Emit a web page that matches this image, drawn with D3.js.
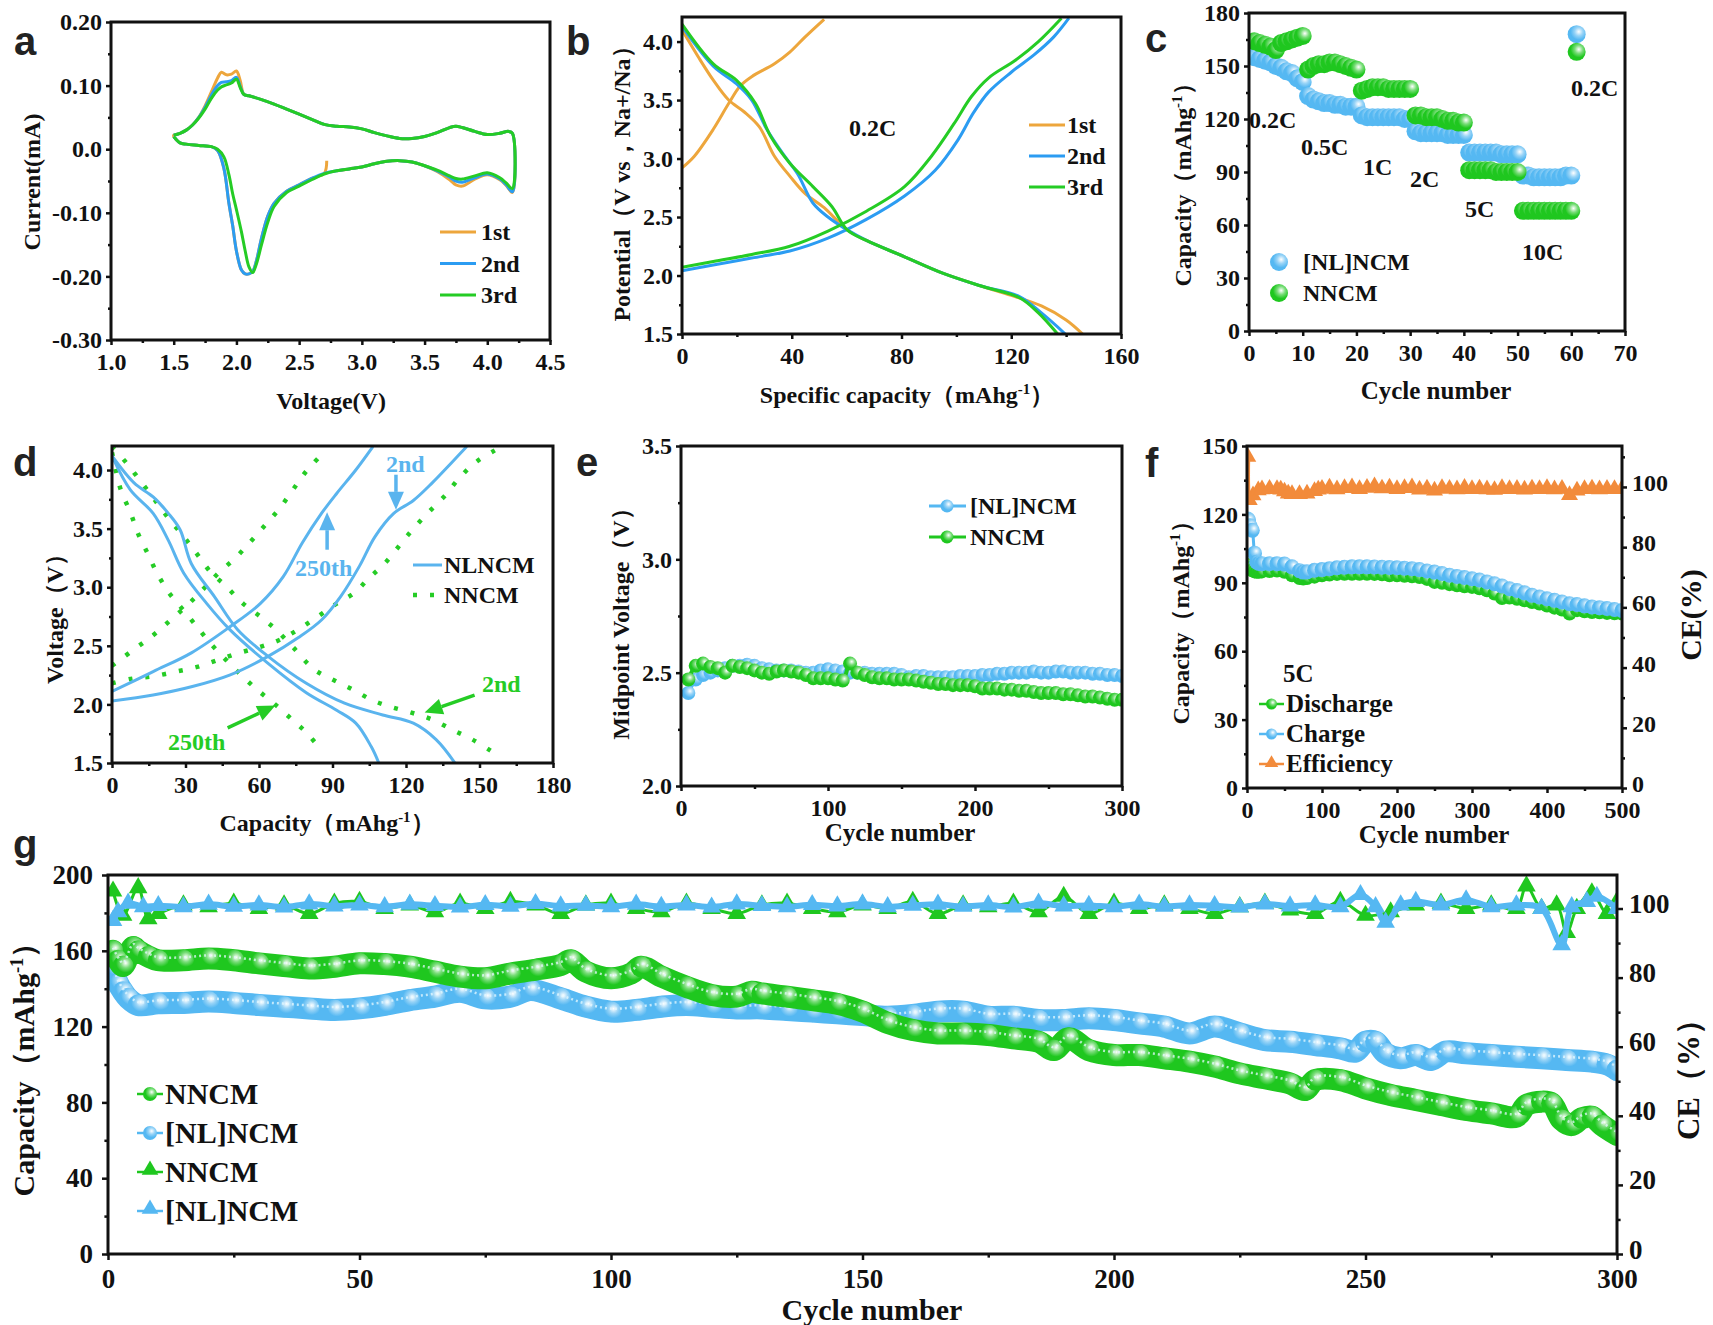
<!DOCTYPE html>
<html lang="en">
<head>
<meta charset="UTF-8" />
<title>Electrochemical performance</title>
<script src="https://cdn.jsdelivr.net/npm/d3@7/dist/d3.min.js"></script>
<style>
  body { margin: 0; padding: 0; background: #fff; overflow: hidden; }
  svg text { font-family: "Liberation Serif", "Times New Roman", serif; font-weight: bold; fill: #111; }
</style>
</head>
<body>
<svg width="1713" height="1325"></svg>
<script>
// ---------- a: CV, three cycles ----------
var cvUpV = [1.50,1.55,1.60,1.65,1.70,1.75,1.80,1.85,1.88,1.92,1.96,2.00,2.03,2.06,2.10,2.20,2.30,2.40,2.50,2.60,2.70,2.80,2.90,3.00,3.10,3.20,3.30,3.40,3.50,3.60,3.70,3.75,3.80,3.90,4.00,4.10,4.17,4.20]
var cvUp1 = [0.022,0.025,0.030,0.038,0.050,0.068,0.090,0.112,0.121,0.117,0.118,0.123,0.108,0.086,0.084,0.078,0.071,0.063,0.055,0.047,0.039,0.036,0.035,0.032,0.026,0.021,0.017,0.017,0.020,0.026,0.034,0.036,0.034,0.028,0.023,0.025,0.028,0.025]
var cvUp2 = [0.022,0.025,0.030,0.038,0.050,0.066,0.085,0.100,0.105,0.106,0.108,0.113,0.099,0.086,0.084,0.078,0.071,0.063,0.055,0.047,0.039,0.036,0.035,0.032,0.026,0.021,0.017,0.017,0.020,0.026,0.034,0.036,0.034,0.028,0.023,0.025,0.028,0.025]
var cvUp3 = [0.022,0.025,0.030,0.038,0.049,0.063,0.080,0.093,0.098,0.101,0.104,0.110,0.097,0.086,0.084,0.078,0.071,0.063,0.055,0.047,0.039,0.036,0.035,0.032,0.026,0.021,0.017,0.017,0.020,0.026,0.034,0.036,0.034,0.028,0.023,0.025,0.028,0.025]
var cvDnV = [4.20,4.15,4.10,4.00,3.90,3.80,3.75,3.70,3.60,3.50,3.40,3.30,3.20,3.10,3.00,2.90,2.80,2.70,2.60,2.50,2.40,2.30,2.25,2.20,2.16,2.13,2.10,2.07,2.04,2.00,1.97,1.94,1.90,1.85,1.80,1.70,1.60,1.55,1.50]
var cvDn1 = [-0.068,-0.057,-0.048,-0.040,-0.047,-0.058,-0.056,-0.048,-0.035,-0.026,-0.020,-0.018,-0.019,-0.023,-0.028,-0.031,-0.034,-0.038,-0.046,-0.056,-0.066,-0.085,-0.105,-0.140,-0.175,-0.192,-0.196,-0.196,-0.190,-0.160,-0.120,-0.085,-0.030,-0.002,0.004,0.006,0.008,0.010,0.020]
var cvDn2 = [-0.067,-0.056,-0.047,-0.039,-0.045,-0.052,-0.050,-0.044,-0.034,-0.026,-0.020,-0.018,-0.019,-0.023,-0.028,-0.031,-0.034,-0.038,-0.046,-0.056,-0.066,-0.085,-0.105,-0.140,-0.175,-0.192,-0.196,-0.196,-0.190,-0.160,-0.120,-0.085,-0.030,-0.002,0.004,0.006,0.008,0.010,0.020]
var cvDn3 = [-0.062,-0.053,-0.045,-0.037,-0.042,-0.047,-0.046,-0.042,-0.033,-0.026,-0.020,-0.018,-0.019,-0.023,-0.028,-0.031,-0.034,-0.039,-0.048,-0.058,-0.068,-0.090,-0.115,-0.150,-0.180,-0.194,-0.185,-0.160,-0.130,-0.095,-0.070,-0.040,-0.012,0.000,0.004,0.006,0.008,0.010,0.020]
var cvOcv = [2.72, -0.018]
var aXTicks = [1.0,1.5,2.0,2.5,3.0,3.5,4.0,4.5]
var aYTicks = [-0.3,-0.2,-0.1,0,0.1,0.2]
var aLegend = ['1st','2nd','3rd']

// ---------- b: charge/discharge at 0.2C ----------
var bChg1C = [0,4.5,11.4,17,21.2,25.4,33.7,39.3,44.9,51.8]
var bChg1V = [2.92,3.02,3.25,3.47,3.62,3.70,3.81,3.91,4.04,4.19]
var bDis1C = [0,5.9,11.4,17,22.6,28.2,33.7,39.3,44.9,51.8,60.2,67.2,81.1,95,109,120,131,140,146]
var bDis1V = [4.10,3.87,3.67,3.50,3.40,3.27,3.02,2.85,2.70,2.58,2.39,2.30,2.16,2.02,1.91,1.83,1.74,1.62,1.50]
var bChg2C = [0,11.4,25.4,39.3,53.2,67.2,81.1,92.3,100.6,106.2,111.8,120.1,128.5,135.5,141]
var bChg2V = [2.04,2.09,2.15,2.21,2.32,2.48,2.68,2.90,3.16,3.39,3.57,3.74,3.89,4.04,4.20]
var bDis2C = [0,11.4,19.8,25.4,30.9,36.5,42.1,47.7,53.2,60.2,67.2,81.1,95,109,123,131,139.7]
var bDis2V = [4.13,3.79,3.64,3.50,3.25,3.05,2.87,2.62,2.50,2.39,2.30,2.16,2.02,1.91,1.82,1.68,1.50]
var bChg3C = [0,11.4,25.4,39.3,53.2,67.2,81.1,90.9,99.2,105.5,111.8,121.5,129.9,138.3]
var bChg3V = [2.07,2.12,2.18,2.25,2.38,2.55,2.76,3.02,3.30,3.53,3.69,3.84,4.00,4.20]
var bDis3C = [0,11.4,19.8,26.8,32.3,39.3,47.7,54.6,60.2,67.2,81.1,95,109,123,129.9,136.9]
var bDis3V = [4.15,3.81,3.67,3.47,3.19,2.96,2.76,2.59,2.39,2.30,2.16,2.02,1.91,1.81,1.68,1.50]
var bXTicks = [0,40,80,120,160]
var bYTicks = [1.5,2.0,2.5,3.0,3.5,4.0]

// ---------- c: rate capability (one value per cycle, cycles 1..61) ----------
var cNl = [155,154,153,152,150,149,147,146,143,141, 133,131,130,129,129,128,128,127,127,127,
  122,121,121,121,121,121,121,121,120,120, 113,112,112,112,112,112,111,111,111,111,
  101,101,101,101,101,101,100,100,100,100, 88,88,87,87,87,87,87,87,88,88, 168]
var cNn = [164,163,162,161,159,163,164,165,166,167, 148,150,151,151,152,152,151,150,149,148,
  136,137,138,138,138,137,137,137,137,137, 122,122,121,121,121,120,119,119,118,118,
  91,91,91,91,91,90,90,90,90,90, 68,68,68,68,68,68,68,68,68,68, 158]
var cRates = ['0.2C','0.5C','1C','2C','5C','10C','0.2C']
var cXTicks = [0,10,20,30,40,50,60,70]
var cYTicks = [0,30,60,90,120,150,180]

// ---------- d: 2nd vs 250th cycle ----------
var dNl2ChgC = [0,16.8,32.4,48,63.7,76.1,85.5,93.3,101,107.3,115,123,130.7,138.5,144.8]
var dNl2ChgV = [2.03,2.08,2.15,2.25,2.41,2.57,2.72,2.92,3.18,3.43,3.63,3.74,3.89,4.06,4.20]
var dNl250ChgC = [0,16.8,32.4,48,60.5,69.9,77.7,85.5,91.7,99.5,106.5]
var dNl250ChgV = [2.11,2.28,2.44,2.66,2.86,3.09,3.38,3.63,3.80,4.00,4.20]
var dNl2DisC = [0,9,16.8,23,27.8,32.4,41.8,51.2,63.7,79.3,94.9,110.5,123,132.3,140]
var dNl2DisV = [4.12,3.89,3.77,3.63,3.49,3.20,2.92,2.64,2.41,2.18,2.01,1.91,1.84,1.70,1.50]
var dNl250DisC = [0,7.5,16.8,23,29.3,38.7,48,63.7,79.3,91.7,99.5,105.8,108.9]
var dNl250DisV = [4.12,3.83,3.63,3.40,3.12,2.86,2.64,2.35,2.10,1.95,1.84,1.64,1.50]
var dNn2ChgC = [0,8.3,16.8,26.2,34.8,43.4,52,60.5,68.3,76.1,84,91.7,98.8,105,111.2,117.5,123,129.2,135.4,141.7,148.7,157.3]
var dNn2ChgV = [2.18,2.22,2.24,2.28,2.32,2.38,2.44,2.49,2.55,2.64,2.75,2.86,2.95,3.08,3.20,3.36,3.50,3.64,3.77,3.93,4.07,4.18]
var dNn250ChgC = [0,9,16.8,23.9,30.9,37.1,43.4,50.4,56.6,62.1,68.3,73.8,79.3,85.5]
var dNn250ChgV = [2.33,2.47,2.59,2.72,2.85,2.98,3.12,3.25,3.39,3.52,3.67,3.83,3.99,4.13]
var dNn2DisC = [0,5.9,12.2,17.6,23,29.3,34.8,40.2,46.5,53.5,60.5,66.8,73.8,82.4,90.2,98,105.8,113.6,122.2,130.7,139.3,147.1,154.9]
var dNn2DisV = [4.20,4.06,3.89,3.74,3.59,3.43,3.28,3.13,3.01,2.86,2.75,2.64,2.49,2.30,2.21,2.13,2.04,1.98,1.93,1.87,1.78,1.70,1.60]
var dNn250DisC = [0,3.6,7.5,10.6,14.5,18.4,23,28.5,34,40.2,46.5,52.7,59,66,73,79.3,85.5]
var dNn250DisV = [4.15,3.83,3.64,3.46,3.29,3.12,2.96,2.82,2.68,2.52,2.38,2.25,2.13,2.01,1.88,1.76,1.61]
var dXTicks = [0,30,60,90,120,150,180]
var dYTicks = [1.5,2.0,2.5,3.0,3.5,4.0]

// ---------- e: midpoint voltage ----------
var eCycle = [5,10,15,20,25,30,35,40,45,50,55,60,65,70,75,80,85,90,95,100,105,110,115,120,125,130,135,140,145,150,
  155,160,165,170,175,180,185,190,195,200,205,210,215,220,225,230,235,240,245,250,255,260,265,270,275,280,285,290,295,300]
var eNl = [2.41,2.47,2.49,2.50,2.51,2.52,2.53,2.53,2.535,2.53, 2.52,2.515,2.51,2.51,2.51,2.505,2.50,2.50,2.51,2.515,
  2.51,2.505,2.50,2.50,2.50,2.495,2.495,2.495,2.495,2.49, 2.48,2.485,2.485,2.48,2.48,2.48,2.48,2.485,2.485,2.485,
  2.49,2.49,2.495,2.495,2.50,2.50,2.50,2.505,2.50,2.50, 2.505,2.505,2.50,2.50,2.50,2.495,2.495,2.49,2.49,2.485]
var eNn = [2.47,2.53,2.54,2.525,2.52,2.50,2.53,2.525,2.52,2.51, 2.50,2.495,2.505,2.51,2.505,2.50,2.49,2.475,2.475,2.475,
  2.47,2.465,2.54,2.50,2.49,2.48,2.475,2.475,2.47,2.47, 2.47,2.465,2.46,2.455,2.45,2.45,2.445,2.445,2.445,2.44,
  2.43,2.43,2.43,2.425,2.425,2.42,2.42,2.415,2.41,2.41, 2.41,2.405,2.405,2.40,2.395,2.395,2.39,2.385,2.38,2.38]
var eXTicks = [0,100,200,300]
var eYTicks = [2.0,2.5,3.0,3.5]

// ---------- f: 5C cycling ----------
var fCycle = [1,2,4,7,10,13,16,20,30,40,50,60,70,75,80,90,100,110,120,130,140,150,160,170,180,190,200,210,220,230,240,
  250,260,270,280,290,300,310,320,330,340,350,360,370,380,390,400,410,420,430,440,450,460,470,480,490,500]
var fCharge = [118,117.5,115,113,103,99,98.5,98.4,98.4,98.4,98.2,97,95.3,94.7,94.8,95.5,
  95.8,96.2,96.6,96.8,97,97,97,96.9,96.8,96.7,96.6,96.4,96.2,95.8,95.2,94.7,94.1,93.3,92.8,92.3,
  91.8,91.2,90.4,89.6,88.6,87.4,86.6,85.6,84.5,83.8,83,82.3,81.6,80.8,80.5,79.9,79.4,79.1,78.7,78.3,77.9]
var fDischarge = [98,97.5,96.5,95.5,95,94.8,94.8,95,95.2,95.4,94.8,93.3,92.1,91.9,92.1,92.7,
  93.3,93.6,93.9,94,94,94,94,93.9,93.7,93.3,93.3,93.1,92.9,92.5,91.7,90.4,90,89.4,88.9,88.5,
  88.2,87.6,86.7,85.3,83.3,83.5,83,82.3,81.6,80.9,80,79.1,78.3,76.5,78,77.5,77.2,77.1,76.8,76.6,76.5]
var fEffCycle = [1,3,8,15,20,30,40,45,50,55,60,70,80,90,95,100,110,120,130,140,150,160,170,180,190,200,210,220,230,240,
  250,260,270,280,290,300,310,320,330,340,350,360,370,380,390,400,410,420,430,440,450,460,470,480,490,500]
var fEff = [110,95.6,97.2,98.9,99.2,99.4,99.3,99.1,98.5,97.8,97.6,97.6,97.8,98.6,99.1,
  99.4,99.8,99.2,99.6,99.9,99.3,99.7,100.2,99.5,99.8,99.3,99.6,99.9,99.1,99.5,98.8,99.6,99.4,99.2,99.7,
  99.3,99.5,99.2,99.0,99.6,99.3,99.4,99.1,99.5,99.3,99.6,99.2,99.4,97.3,98.8,99.3,99.5,99.2,99.4,99.3,99.4]
var fXTicks = [0,100,200,300,400,500]
var fYTicks = [0,30,60,90,120,150]
var fY2Ticks = [0,20,40,60,80,100]
var fLegend = ['Discharge','Charge','Efficiency']

// ---------- g: long cycling ----------
var gNnCycle = [1,2,3,5,6,8,10,15,20,25,30,35,40,45,50,55,60,65,70,75,80,85,90,92,95,100,104,106,110,115,120,125,128,130,135,
  140,145,150,155,160,165,170,175,180,185,188,191,195,200,205,210,215,220,225,230,235,238,240,245,250,255,260,265,270,275,
  280,282,285,287,289,291,293,295,297,300]
var gNnCap = [160,155,152,162,160,157,155,155,156,155,153.4,152,150.7,151.6,153.4,153,151.6,149,146.4,145.5,148,150,152.5,155,149,
  145.5,148,151.6,146.4,141,136.7,135.8,138.4,137.5,135.8,134,132,128,122,118.2,116.4,116.4,115.6,113.8,112,107.6,113.8,107.6,
  105,105,103.3,101.5,98.9,95.3,92.7,90,86.5,91.8,91.8,87.4,83.9,81.3,78.6,76,74.2,72.5,78.6,80.4,79.5,70.7,68,71.6,72.5,68,62.8]
var gNlCycle = [1,2,3,4,6,10,15,20,25,30,35,40,45,50,55,60,65,70,75,80,84,90,95,100,105,110,115,120,125,130,135,140,145,150,
  155,160,165,170,175,180,185,190,195,200,205,210,215,220,225,230,235,240,245,248,250,252,254,257,260,263,266,270,275,280,285,
  290,295,298,300]
var gNlCap = [150.7,142.8,138.4,135,131.4,132.3,132.5,133.2,132.5,131.4,130.5,129.6,128.8,129.6,131.4,134,135.8,138.4,134.9,135.8,
  139.3,134.9,130.5,127.9,128.8,130.5,131.4,130.5,129.6,129.6,128.8,127.9,127,126.1,125.2,126.1,127.9,127.9,125.2,125.2,
  123.5,123.5,124.4,123.5,121.7,120,116.4,120,116.4,112.9,112,110.3,108.5,106.8,112,112,105.9,103.3,105,102.4,
  106.8,105.9,105,104.1,103.3,102.4,101.5,100,97.1]
var gCeNnCycle = [1,3,6,8,10,15,20,25,30,35,40,45,50,55,60,65,70,75,80,85,90,95,100,105,110,115,120,125,130,135,140,145,150,
  155,160,165,170,175,180,185,190,195,200,205,210,215,220,225,230,235,240,245,250,255,260,265,270,275,280,282,285,288,290,292,
  295,298,300]
var gCeNn = [105,98,106,97,98.5,101,100.5,101.5,100,101,98.5,101.5,102,100,101,99,101.5,100,102,101,98.5,101,101.5,100,99,
  101.5,100,98.5,101,101.5,100,99,101,100,102,98.5,101,100.5,101.5,99,103.5,98.5,101.5,100,101,100,98.5,100.5,101.5,99.5,
  98.5,102,98,99,101,101.5,100,101,100,106.5,100,101,93,100,104.5,98.5,102]
var gCeNlCycle = [1,2,4,7,10,15,20,25,30,35,40,45,50,55,60,65,70,75,80,85,90,95,100,105,110,115,120,125,130,135,140,145,150,
  155,160,165,170,175,180,185,190,195,200,205,210,215,220,225,230,235,240,245,249,252,254,257,260,265,270,275,280,285,
  289,291,294,296,300]
var gCeNl = [96.5,99,101.5,100.5,100.8, 100.5,101.2,100.6,101,100.4,101.3,100.7,101,100.5,101.2,100.8,100.4,101.1,100.6,101.4,
  100.7,100.9,100.5,101.2,100.6,101,100.4,101.3,100.8,100.5,101.1,100.7,101.3,100.5,100.9,101.2,100.6,101,100.4,101.5,
  100.7,100.9,100.5,101.2,100.6,101,100.8,100.4,101.3,100.7,101,100.5, 104,100.5,96,101,102,101,102.5,100.5,101,100,
  89.5,100.5,102,103.5,100]
var gXTicks = [0,50,100,150,200,250,300]
var gYTicks = [0,40,80,120,160,200]
var gY2Ticks = [0,20,40,60,80,100]
var gLegend = ['NNCM','[NL]NCM','NNCM','[NL]NCM']

// ---------- drawing ----------
var SERIF = '"Liberation Serif", "Times New Roman", serif'
var ORANGE_A = '#eda63c', BLUE_A = '#2b9cf2', GREEN_A = '#25cc25'
var SKY = '#55b8f2', LEAF = '#1fc71f', ORANGE_F = '#f28b3b', BLUE_D = '#5ab4ee'

var svg = d3.select('svg')
var defs = svg.append('defs')

function ballGrad(id, c) {
  var rg = defs.append('radialGradient').attr('id', id)
    .attr('cx', 0.62).attr('cy', 0.36).attr('r', 0.65)
  rg.append('stop').attr('offset', '0%').attr('stop-color', '#ffffff')
  rg.append('stop').attr('offset', '35%').attr('stop-color', d3.interpolateRgb('#ffffff', c)(0.6))
  rg.append('stop').attr('offset', '70%').attr('stop-color', c)
}
ballGrad('ballSky', SKY)
ballGrad('ballLeaf', LEAF)

var nClip = 0
function panel(x0, y0, x1, y1, xd, yd, yd2) {
  var w = x1 - x0, h = y1 - y0
  var g = svg.append('g').attr('transform', `translate(${x0},${y0})`)
  var id = 'clip' + nClip++
  defs.append('clipPath').attr('id', id).append('rect').attr('width', w).attr('height', h)
  var p = {
    g: g, w: w, h: h,
    plot: g.append('g').attr('clip-path', `url(#${id})`),
    x: d3.scaleLinear().domain(xd).range([0, w]),
    y: d3.scaleLinear().domain(yd).range([h, 0]),
  }
  if (yd2) p.y2 = d3.scaleLinear().domain(yd2).range([h, 0])
  return p
}

function axis(p, side, scale, major, minor, fmt, o) {
  var make = { bottom: d3.axisBottom, left: d3.axisLeft, right: d3.axisRight }[side]
  var tr = side === 'bottom' ? `translate(0,${p.h})` : side === 'right' ? `translate(${p.w},0)` : null
  var pad = side === 'bottom' ? o.padB : side === 'left' ? o.padL : o.padR
  var out
  ;[[minor, o.tick * 0.6, () => ''], [major, o.tick, fmt]].forEach(function (t) {
    out = p.g.append('g').attr('transform', tr)
      .call(make(scale).tickValues(t[0]).tickSize(t[1]).tickPadding(pad).tickFormat(t[2]))
    out.select('.domain').remove()
    out.attr('font-size', o.fs).attr('font-family', SERIF)
    out.selectAll('line').attr('stroke', '#111').attr('stroke-width', 2.5)
  })
  return out
}

function frame(p) {
  p.g.append('rect').attr('width', p.w).attr('height', p.h)
    .attr('fill', 'none').attr('stroke', '#111').attr('stroke-width', 3)
}

function minor(ticks) {
  var out = []
  for (var i = 0; i < ticks.length - 1; i++) out.push((ticks[i] + ticks[i + 1]) / 2)
  return out
}

function txt(g, x, y, s, fs, color, anchor) {
  return g.append('text').attr('x', x).attr('y', y).attr('font-size', fs)
    .attr('text-anchor', anchor || 'start').style('fill', color || '#111').text(s)
}

function title(x, y, parts, fs, rot) {
  var t = svg.append('text').attr('text-anchor', 'middle').attr('font-size', fs)
    .attr('transform', `translate(${x},${y})` + (rot ? ' rotate(-90)' : ''))
  var up = false
  parts.forEach(function (s) {
    var sp = t.append('tspan')
    if (Array.isArray(s)) {
      sp.attr('dy', -fs * 0.38).attr('font-size', fs * 0.62).text(s[0])
      up = true
    } else {
      if (up) sp.attr('dy', fs * 0.38)
      up = false
      sp.text(s)
    }
  })
}

function letter(x, y, s) {
  svg.append('text').attr('x', x).attr('y', y).attr('font-size', 40)
    .style('font-family', '"Liberation Sans", Arial, sans-serif').style('fill', '#222').text(s)
}

function pts(xs, ys) { return xs.map((v, i) => [v, ys[i]]) }

function curve(p, data, color, width, ys, dash) {
  var yy = ys || p.y
  return p.plot.append('path').datum(data)
    .attr('fill', 'none').attr('stroke', color).attr('stroke-width', width)
    .attr('stroke-linejoin', 'round').attr('stroke-dasharray', dash || null)
    .attr('d', d3.line().x(d => p.x(d[0])).y(d => yy(d[1])).curve(d3.curveCatmullRom.alpha(0.5)))
}

function balls(p, data, r, grad, ys) {
  var yy = ys || p.y
  p.plot.append('g').selectAll('circle').data(data).enter().append('circle')
    .attr('cx', d => p.x(d[0])).attr('cy', d => yy(d[1])).attr('r', r)
    .attr('fill', `url(#${grad})`)
}

function tris(p, data, size, color, ys) {
  var yy = ys || p.y
  p.plot.append('g').selectAll('path').data(data).enter().append('path')
    .attr('transform', d => `translate(${p.x(d[0])},${yy(d[1])})`)
    .attr('d', d3.symbol().type(d3.symbolTriangle).size(size)).attr('fill', color)
}

function arrow(p, x1, y1, x2, y2, color) {
  var ax = p.x(x1), ay = p.y(y1), bx = p.x(x2), by = p.y(y2)
  var ang = Math.atan2(by - ay, bx - ax), L = 18, W = 8
  var hx = bx - L * Math.cos(ang), hy = by - L * Math.sin(ang)
  p.g.append('line').attr('x1', ax).attr('y1', ay).attr('x2', hx).attr('y2', hy)
    .attr('stroke', color).attr('stroke-width', 3.5)
  p.g.append('path').attr('fill', color).attr('d',
    `M${bx},${by}L${hx + W * Math.sin(ang)},${hy - W * Math.cos(ang)}L${hx - W * Math.sin(ang)},${hy + W * Math.cos(ang)}Z`)
}

var small = { tick: 5, padB: 8, padL: 4, padR: 5, fs: 24 }
var big = { tick: 6, padB: 9, padL: 9, padR: 6, fs: 27 }
var fix1 = d => d.toFixed(1)
var int = d => String(d)

// ---- a ----
var pa = panel(111, 22, 550, 340, [1.0, 4.5], [-0.30, 0.20])
var loopA = (up, dn) => pts(cvUpV, up).concat(pts(cvDnV, dn))
var first = [cvOcv].concat(pts(cvDnV, cvDn1).filter(d => d[0] <= 2.72), pts(cvUpV, cvUp1),
  pts(cvDnV, cvDn1).filter(d => d[0] >= 2.75))
curve(pa, first, ORANGE_A, 3)
curve(pa, loopA(cvUp2, cvDn2), BLUE_A, 3)
curve(pa, loopA(cvUp3, cvDn3), GREEN_A, 3)
axis(pa, 'bottom', pa.x, aXTicks, minor(aXTicks), fix1, small)
axis(pa, 'left', pa.y, aYTicks, minor(aYTicks), d => (d === 0 ? '0.0' : d.toFixed(2)), small)
frame(pa)
;[ORANGE_A, BLUE_A, GREEN_A].forEach(function (c, i) {
  var y = 210 + i * 31.5
  pa.g.append('line').attr('x1', 329).attr('x2', 365).attr('y1', y).attr('y2', y).attr('stroke', c).attr('stroke-width', 3)
  txt(pa.g, 370, y + 8, aLegend[i], 24)
})
title(331, 409, ['Voltage(V)'], 24)
title(40, 182, ['Current(mA)'], 24, true)
letter(14, 55, 'a')

// ---- b ----
var pb = panel(682, 17, 1121, 334, [0, 160], [1.5, 4.21])
curve(pb, pts(bChg1C, bChg1V), ORANGE_A, 3)
curve(pb, pts(bDis1C, bDis1V), ORANGE_A, 3)
curve(pb, pts(bChg2C, bChg2V), BLUE_A, 3)
curve(pb, pts(bDis2C, bDis2V), BLUE_A, 3)
curve(pb, pts(bChg3C, bChg3V), GREEN_A, 3)
curve(pb, pts(bDis3C, bDis3V), GREEN_A, 3)
axis(pb, 'bottom', pb.x, bXTicks, minor(bXTicks), int, small)
axis(pb, 'left', pb.y, bYTicks, minor(bYTicks), fix1, small)
frame(pb)
txt(pb.g, 167, 119, '0.2C', 24)
;[ORANGE_A, BLUE_A, GREEN_A].forEach(function (c, i) {
  var y = 108 + i * 31
  pb.g.append('line').attr('x1', 347).attr('x2', 383).attr('y1', y).attr('y2', y).attr('stroke', c).attr('stroke-width', 3)
  txt(pb.g, 385, y + 8, aLegend[i], 24)
})
title(907, 403, ['Specific capacity（mAhg', ['-1'], '）'], 24)
title(630, 178, ['Potential（V vs，Na+/Na）'], 24, true)
letter(566, 55, 'b')

// ---- c ----
var pc = panel(1249, 13, 1625, 331, [0, 70], [0, 180])
balls(pc, cNl.map((v, i) => [i + 1, v]), 9, 'ballSky')
balls(pc, cNn.map((v, i) => [i + 1, v]), 9, 'ballLeaf')
axis(pc, 'bottom', pc.x, cXTicks, minor(cXTicks), int, small)
axis(pc, 'left', pc.y, cYTicks, minor(cYTicks), int, small)
frame(pc)
;[[0, 115], [52, 142], [114, 162], [161, 174], [216, 204], [273, 247], [322, 83]].forEach(function (q, i) {
  txt(pc.g, q[0], q[1], cRates[i], 24)
})
;[['ballSky', '[NL]NCM'], ['ballLeaf', 'NNCM']].forEach(function (q, i) {
  var y = 249 + i * 31
  pc.g.append('circle').attr('cx', 30).attr('cy', y).attr('r', 9).attr('fill', `url(#${q[0]})`)
  txt(pc.g, 54, y + 8, q[1], 24)
})
title(1436, 399, ['Cycle number'], 25)
title(1191, 179, ['Capacity（mAhg', ['-1'], '）'], 24, true)
letter(1145, 52, 'c')

// ---- d ----
var pd = panel(112, 446, 553, 763, [0, 180], [1.5, 4.205])
var dots = '4,13'
curve(pd, pts(dNn2ChgC, dNn2ChgV), GREEN_A, 4.5, null, dots)
curve(pd, pts(dNn250ChgC, dNn250ChgV), GREEN_A, 4.5, null, dots)
curve(pd, pts(dNn2DisC, dNn2DisV), GREEN_A, 4.5, null, dots)
curve(pd, pts(dNn250DisC, dNn250DisV), GREEN_A, 4.5, null, dots)
curve(pd, pts(dNl2ChgC, dNl2ChgV), BLUE_D, 3)
curve(pd, pts(dNl250ChgC, dNl250ChgV), BLUE_D, 3)
curve(pd, pts(dNl2DisC, dNl2DisV), BLUE_D, 3)
curve(pd, pts(dNl250DisC, dNl250DisV), BLUE_D, 3)
axis(pd, 'bottom', pd.x, dXTicks, minor(dXTicks), int, small)
axis(pd, 'left', pd.y, dYTicks, minor(dYTicks), fix1, small)
frame(pd)
arrow(pd, 115.9, 3.96, 115.9, 3.66, BLUE_D)
arrow(pd, 87.8, 3.32, 87.8, 3.64, BLUE_D)
arrow(pd, 148, 2.08, 127.6, 1.93, GREEN_A)
arrow(pd, 47.2, 1.80, 66.7, 1.99, GREEN_A)
txt(pd.g, 274, 26, '2nd', 24, BLUE_D)
txt(pd.g, 183, 130, '250th', 24, BLUE_D)
txt(pd.g, 370, 246, '2nd', 24, GREEN_A)
txt(pd.g, 56, 304, '250th', 24, GREEN_A)
pd.g.append('line').attr('x1', 301).attr('x2', 330).attr('y1', 119).attr('y2', 119).attr('stroke', BLUE_D).attr('stroke-width', 3)
txt(pd.g, 332, 127, 'NLNCM', 24)
pd.g.append('line').attr('x1', 301).attr('x2', 330).attr('y1', 149).attr('y2', 149).attr('stroke', GREEN_A)
  .attr('stroke-width', 4.5).attr('stroke-dasharray', dots)
txt(pd.g, 332, 157, 'NNCM', 24)
title(327, 831, ['Capacity（mAhg', ['-1'], '）'], 24)
title(63, 613, ['Voltage（V）'], 24, true)
letter(13, 476, 'd')

// ---- e ----
var pe = panel(681, 446, 1122, 786, [0, 300], [2.0, 3.5])
curve(pe, pts(eCycle, eNl), SKY, 4)
balls(pe, pts(eCycle, eNl), 7, 'ballSky')
curve(pe, pts(eCycle, eNn), LEAF, 4)
balls(pe, pts(eCycle, eNn), 7, 'ballLeaf')
axis(pe, 'bottom', pe.x, eXTicks, minor(eXTicks), int, small)
axis(pe, 'left', pe.y, eYTicks, minor(eYTicks), fix1, small)
frame(pe)
;[[SKY, 'ballSky', '[NL]NCM'], [LEAF, 'ballLeaf', 'NNCM']].forEach(function (q, i) {
  var y = 60 + i * 31
  pe.g.append('line').attr('x1', 248).attr('x2', 285).attr('y1', y).attr('y2', y).attr('stroke', q[0]).attr('stroke-width', 3)
  pe.g.append('circle').attr('cx', 266).attr('cy', y).attr('r', 6.5).attr('fill', `url(#${q[1]})`)
  txt(pe.g, 289, y + 8, q[2], 24)
})
title(900, 841, ['Cycle number'], 25)
title(629, 618, ['Midpoint Voltage（V）'], 24, true)
letter(576, 476, 'e')

// ---- f ----
var pf = panel(1247, 446, 1622, 788, [0, 500], [0, 150], [0, 113.6])
curve(pf, pts(fCycle, fDischarge), LEAF, 3)
balls(pf, pts(fCycle, fDischarge), 7, 'ballLeaf')
curve(pf, pts(fCycle, fCharge), SKY, 3)
balls(pf, pts(fCycle, fCharge), 7.5, 'ballSky')
curve(pf, pts(fEffCycle, fEff), ORANGE_F, 5, pf.y2)
tris(pf, pts(fEffCycle, fEff), 125, ORANGE_F, pf.y2)
axis(pf, 'bottom', pf.x, fXTicks, minor(fXTicks), int, small)
axis(pf, 'left', pf.y, fYTicks, minor(fYTicks), int, small)
axis(pf, 'right', pf.y2, fY2Ticks, [10, 30, 50, 70, 90, 110], int, small)
  .selectAll('text').attr('dy', '0.15em')
frame(pf)
txt(pf.g, 36, 236, '5C', 25)
;[[LEAF, 'ballLeaf'], [SKY, 'ballSky'], [ORANGE_F, null]].forEach(function (q, i) {
  var y = 258 + i * 30
  pf.g.append('line').attr('x1', 12).attr('x2', 37).attr('y1', y).attr('y2', y).attr('stroke', q[0]).attr('stroke-width', 2.5)
  if (q[1]) pf.g.append('circle').attr('cx', 24.5).attr('cy', y).attr('r', 5.5).attr('fill', `url(#${q[1]})`)
  else pf.g.append('path').attr('transform', `translate(24.5,${y - 1})`)
    .attr('d', d3.symbol().type(d3.symbolTriangle).size(80)).attr('fill', q[0])
  txt(pf.g, 39, y + 8, fLegend[i], 25)
})
title(1434, 843, ['Cycle number'], 25)
title(1189, 617, ['Capacity（mAhg', ['-1'], '）'], 24, true)
title(1701, 615, ['CE(%)'], 30, true)
letter(1145, 477, 'f')

// ---- g ----
var pg = panel(108, 875, 1617, 1254, [0, 300], [0, 200], [0, 109.7])
function band(p, data, color, grad) {
  curve(p, data, color, 22).attr('stroke-linecap', 'round')
  balls(p, data, 10.5, grad)
  curve(p, data, '#e6f8ff', 2.5, null, '2,3').attr('transform', 'translate(0,-3)').attr('opacity', 0.75)
}
band(pg, pts(gNlCycle, gNlCap), SKY, 'ballSky')
band(pg, pts(gNnCycle, gNnCap), LEAF, 'ballLeaf')
curve(pg, pts(gCeNnCycle, gCeNn), LEAF, 3, pg.y2)
tris(pg, pts(gCeNnCycle, gCeNn), 150, LEAF, pg.y2)
curve(pg, pts(gCeNlCycle, gCeNl), SKY, 6, pg.y2)
tris(pg, pts(gCeNlCycle, gCeNl), 150, SKY, pg.y2)
axis(pg, 'bottom', pg.x, gXTicks, minor(gXTicks), int, big)
axis(pg, 'left', pg.y, gYTicks, minor(gYTicks), int, big)
axis(pg, 'right', pg.y2, gY2Ticks, minor(gY2Ticks), int, big)
  .selectAll('text').attr('dy', '0.15em')
frame(pg)
;[[LEAF, 'ballLeaf'], [SKY, 'ballSky'], [LEAF, null], [SKY, null]].forEach(function (q, i) {
  var y = 219 + i * 39
  pg.g.append('line').attr('x1', 29).attr('x2', 55).attr('y1', y).attr('y2', y).attr('stroke', q[0]).attr('stroke-width', 2.5)
  if (q[1]) pg.g.append('circle').attr('cx', 42).attr('cy', y).attr('r', 7).attr('fill', `url(#${q[1]})`)
  else pg.g.append('path').attr('transform', `translate(42,${y - 2})`)
    .attr('d', d3.symbol().type(d3.symbolTriangle).size(120)).attr('fill', q[0])
  txt(pg.g, 57, y + 10, gLegend[i], 30)
})
title(872, 1320, ['Cycle number'], 30)
title(34, 1062, ['Capacity（mAhg', ['-1'], '）'], 30, true)
title(1699, 1072, ['CE（%）'], 31, true)
letter(13, 858, 'g')
</script>
</body>
</html>
